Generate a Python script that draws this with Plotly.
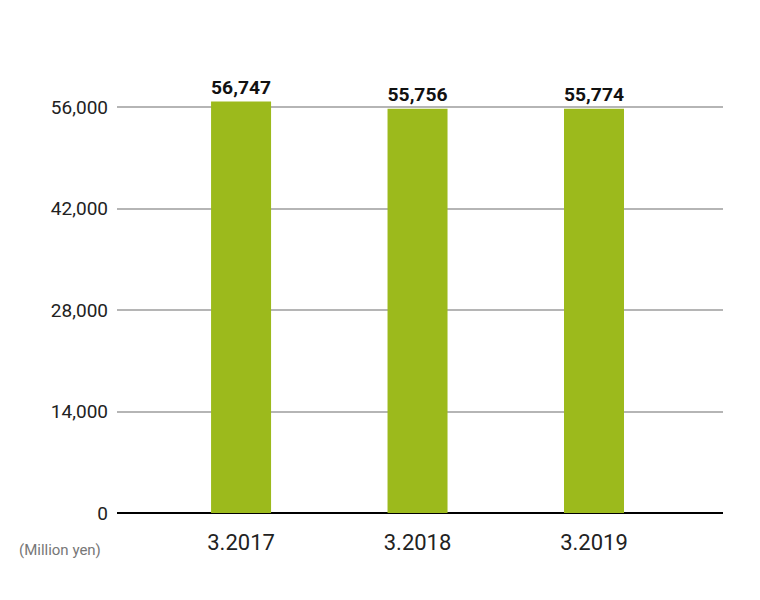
import plotly.graph_objects as go

categories = ["3.2017", "3.2018", "3.2019"]
values = [56747, 55756, 55774]
y_ticks = [0, 14000, 28000, 42000, 56000]
y_tick_labels = ["0", "14,000", "28,000", "42,000", "56,000"]

x = list(range(len(categories)))
fig = go.Figure()
fig.add_bar(x=x, y=values, width=0.34, marker=dict(color="#9cba1c", line=dict(width=0)),
            text=[f"<b>{v:,}</b>" for v in values], textposition="outside", cliponaxis=False,
            textfont=dict(family="Roboto", size=25, color="#111"))
fig.update_layout(
    width=760, height=600, plot_bgcolor="white", paper_bgcolor="white",
    margin=dict(l=109, r=45, t=70, b=95), showlegend=False,
    font=dict(family="Roboto", color="#222"),
    xaxis=dict(range=[-0.703, 2.731], tickvals=x, ticktext=categories, showgrid=False,
               showline=False, zeroline=False, tickfont=dict(size=22), ticks="",
               ticklabelstandoff=14),
    yaxis=dict(range=[0, 60000], tickvals=y_ticks, ticktext=y_tick_labels,
               showgrid=True, gridcolor="#b5b5b5", gridwidth=1.5, zeroline=True,
               zerolinecolor="#000", zerolinewidth=1.5, tickfont=dict(size=19), ticks="",
               ticklabelstandoff=8),
    annotations=[dict(text="(Million yen)", xref="paper", yref="paper", x=-0.165, y=-0.085,
                      xanchor="left", yanchor="middle", showarrow=False,
                      font=dict(size=15, color="#777"))],
)
fig.write_html("out.html")
